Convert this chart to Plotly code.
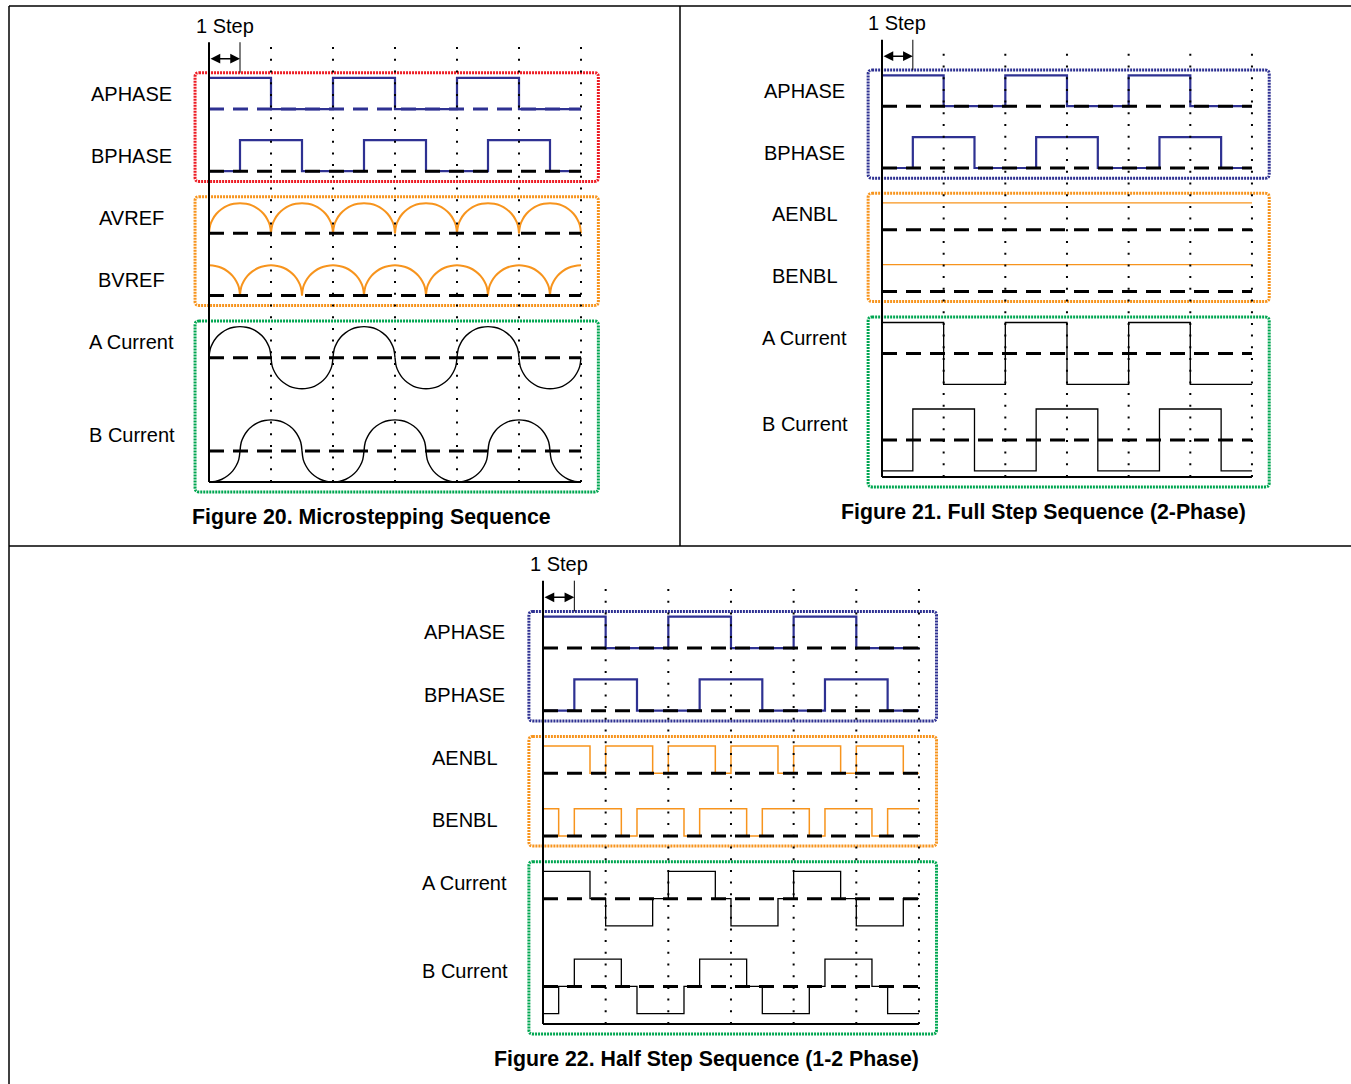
import plotly.graph_objects as go

W, H = 1351, 1084

# ---------------- data (levels per step / half-step) ----------------
APHASE = [1, 1, 0, 0, 1, 1, 0, 0, 1, 1, 0, 0]
BPHASE = [0, 1, 1, 0, 0, 1, 1, 0, 0, 1, 1, 0]

# Figure 20 (microstepping): one arc = 2 steps, polarity per arc, start step of first arc
AVREF_ARCS = [1, 1, 1, 1, 1, 1]
AVREF_START = 0
BVREF_ARCS = [1, 1, 1, 1, 1, 1, 1]
BVREF_START = -1
ACUR_ARCS = [1, -1, 1, -1, 1, -1]
ACUR_START = 0
BCUR_ARCS = [-1, 1, -1, 1, -1, 1, -1]
BCUR_START = -1
# arc profile (fraction of arc, height)
ARC_T = [0, 0.02, 0.06, 0.12, 0.2, 0.3, 0.4, 0.5, 0.6, 0.7, 0.8, 0.88, 0.94, 0.98, 1]
ARC_V = [0, 0.28, 0.47, 0.65, 0.8, 0.92, 0.98, 1.0, 0.98, 0.92, 0.8, 0.65, 0.47, 0.28, 0]

# Figure 21 (full step), per step
FS_AENBL = [1, 1, 1, 1, 1, 1, 1, 1, 1, 1, 1, 1]
FS_BENBL = [1, 1, 1, 1, 1, 1, 1, 1, 1, 1, 1, 1]
FS_ACUR = [1, 1, -1, -1, 1, 1, -1, -1, 1, 1, -1, -1]
FS_BCUR = [-1, 1, 1, -1, -1, 1, 1, -1, -1, 1, 1, -1]

# Figure 22 (half step), per half step
HS_AENBL = [1, 1, 1, 0, 1, 1, 1, 0, 1, 1, 1, 0, 1, 1, 1, 0, 1, 1, 1, 0, 1, 1, 1, 0]
HS_BENBL = [1, 0, 1, 1, 1, 0, 1, 1, 1, 0, 1, 1, 1, 0, 1, 1, 1, 0, 1, 1, 1, 0, 1, 1]
HS_ACUR = [1, 1, 1, 0, -1, -1, -1, 0, 1, 1, 1, 0, -1, -1, -1, 0, 1, 1, 1, 0, -1, -1, -1, 0]
HS_BCUR = [-1, 0, 1, 1, 1, 0, -1, -1, -1, 0, 1, 1, 1, 0, -1, -1, -1, 0, 1, 1, 1, 0, -1, -1]

LABELS_20 = ["APHASE", "BPHASE", "AVREF", "BVREF", "A Current", "B Current"]
LABELS_21 = ["APHASE", "BPHASE", "AENBL", "BENBL", "A Current", "B Current"]
LABELS_22 = ["APHASE", "BPHASE", "AENBL", "BENBL", "A Current", "B Current"]
TITLES = ["Figure 20. Microstepping Sequence",
          "Figure 21. Full Step Sequence (2-Phase)",
          "Figure 22. Half Step Sequence (1-2 Phase)"]
STEP_TEXT = "1 Step"
N_STEPS = 12

# ---------------- styling / layout ----------------
NAVY = "#2e3192"
ORANGE = "#f7941d"
RED = "#ed1c24"
GREEN = "#00a651"
FONT = "Liberation Sans, Arial, sans-serif"

# panel geometry: axis origin (px), step width (px), unit height (px)
PANELS = [
    dict(x0=209, step=31.0, y0=482, unit=31.08, bases=[12, 10, 8, 6, 4, 1.0],
         box1=RED, labels=LABELS_20, title=TITLES[0]),
    dict(x0=882, step=30.83, y0=477, unit=30.9, bases=[12, 10, 8, 6, 4, 1.2],
         box1=NAVY, labels=LABELS_21, title=TITLES[1]),
    dict(x0=543, step=31.33, y0=1024, unit=31.33, bases=[12, 10, 8, 6, 4, 1.2],
         box1=NAVY, labels=LABELS_22, title=TITLES[2]),
]

fig = go.Figure()


def step_xy(levels, dt, base, amp):
    xs = [i * dt for i in range(len(levels) + 1)]
    ys = [base + amp * v for v in levels] + [base + amp * levels[-1]]
    return xs, ys


def arc_xy(pols, start, base, amp):
    xs, ys = [], []
    for k, p in enumerate(pols):
        a0 = start + 2 * k
        for t, v in zip(ARC_T, ARC_V):
            x = a0 + 2 * t
            if -1e-9 <= x <= N_STEPS + 1e-9:
                xs.append(x)
                ys.append(base + amp * p * v)
        xs.append(None)
        ys.append(None)
    return xs, ys


def add_line(n, xs, ys, color, width, shape="hv"):
    ax = "" if n == 1 else str(n)
    fig.add_trace(go.Scatter(x=xs, y=ys, mode="lines", xaxis="x" + ax, yaxis="y" + ax,
                             line=dict(color=color, width=width, shape=shape),
                             hoverinfo="skip", showlegend=False, connectgaps=False))


# Panel 1
b = PANELS[0]["bases"]
add_line(1, *step_xy(APHASE, 1, b[0], 1.0), NAVY, 2.2)
add_line(1, *step_xy(BPHASE, 1, b[1], 1.0), NAVY, 2.2)
add_line(1, *arc_xy(AVREF_ARCS, AVREF_START, b[2], 0.97), ORANGE, 2, "spline")
add_line(1, *arc_xy(BVREF_ARCS, BVREF_START, b[3], 0.97), ORANGE, 2, "spline")
add_line(1, *arc_xy(ACUR_ARCS, ACUR_START, b[4], 1.0), "black", 1.4, "spline")
add_line(1, *arc_xy(BCUR_ARCS, BCUR_START, b[5], 1.0), "black", 1.4, "spline")

# Panel 2
b = PANELS[1]["bases"]
add_line(2, *step_xy(APHASE, 1, b[0], 1.0), NAVY, 2.2)
add_line(2, *step_xy(BPHASE, 1, b[1], 1.0), NAVY, 2.2)
add_line(2, *step_xy(FS_AENBL, 1, b[2], 0.87), ORANGE, 1.2)
add_line(2, *step_xy(FS_BENBL, 1, b[3], 0.87), ORANGE, 1.2)
add_line(2, *step_xy(FS_ACUR, 1, b[4], 1.0), "black", 1.3)
add_line(2, *step_xy(FS_BCUR, 1, b[5], 1.0), "black", 1.3)

# Panel 3
b = PANELS[2]["bases"]
add_line(3, *step_xy(APHASE, 1, b[0], 1.0), NAVY, 2.2)
add_line(3, *step_xy(BPHASE, 1, b[1], 1.0), NAVY, 2.2)
add_line(3, *step_xy(HS_AENBL, 0.5, b[2], 0.87), ORANGE, 1.5)
add_line(3, *step_xy(HS_BENBL, 0.5, b[3], 0.87), ORANGE, 1.5)
add_line(3, *step_xy(HS_ACUR, 0.5, b[4], 0.87), "black", 1.3)
add_line(3, *step_xy(HS_BCUR, 0.5, b[5], 0.87), "black", 1.3)

shapes = []
annotations = []
layout_axes = {}


def rounded_rect(x0, y0, x1, y1, rx, ry):
    return (f"M {x0+rx},{y1} L {x1-rx},{y1} Q {x1},{y1} {x1},{y1-ry} "
            f"L {x1},{y0+ry} Q {x1},{y0} {x1-rx},{y0} L {x0+rx},{y0} "
            f"Q {x0},{y0} {x0},{y0+ry} L {x0},{y1-ry} Q {x0},{y1} {x0+rx},{y1} Z")


for i, P in enumerate(PANELS):
    n = i + 1
    ax = "" if n == 1 else str(n)
    xr, yr = "x" + ax, "y" + ax
    layout_axes["xaxis" + ax] = dict(domain=[0, 1], anchor=yr, visible=False, fixedrange=True,
                                     range=[(0 - P["x0"]) / P["step"], (W - P["x0"]) / P["step"]])
    layout_axes["yaxis" + ax] = dict(domain=[0, 1], anchor=xr, visible=False, fixedrange=True,
                                     range=[(P["y0"] - H) / P["unit"], P["y0"] / P["unit"]])
    rx = 4 / P["step"]
    ry = 4 / P["unit"]
    # boxes
    for (ytop, ybot, col) in [(13.17, 9.67, P["box1"]), (9.18, 5.68, ORANGE), (5.18, -0.32, GREEN)]:
        shapes.append(dict(type="path", xref=xr, yref=yr,
                           path=rounded_rect(-0.45, ybot, 12.56, ytop, rx, ry),
                           line=dict(color=col, width=3, dash="2px,1px"), layer="below"))
    # dotted step grid
    for k in range(2, N_STEPS + 1, 2):
        shapes.append(dict(type="line", xref=xr, yref=yr, x0=k, x1=k, y0=0, y1=14.0,
                           line=dict(color="black", width=2, dash="2px,9.7px")))
    # dashed baselines
    for r, base in enumerate(P["bases"]):
        col = NAVY if (n == 1 and r == 0) else "black"
        shapes.append(dict(type="line", xref=xr, yref=yr, x0=0, x1=N_STEPS, y0=base, y1=base,
                           line=dict(color=col, width=3, dash="15px,9px")))
    # axes
    shapes.append(dict(type="line", xref=xr, yref=yr, x0=0, x1=0, y0=0, y1=14.15,
                       line=dict(color="black", width=2)))
    shapes.append(dict(type="line", xref=xr, yref=yr, x0=0, x1=N_STEPS, y0=0, y1=0,
                       line=dict(color="black", width=2)))
    # step marker
    shapes.append(dict(type="line", xref=xr, yref=yr, x0=1, x1=1, y0=13.17, y1=14.15,
                       line=dict(color="black", width=1)))
    annotations.append(dict(xref=xr, yref=yr, x=1, y=13.62, axref=xr, ayref=yr, ax=0, ay=13.62,
                            text="", showarrow=True, arrowhead=2, startarrowhead=2,
                            arrowside="end+start", arrowsize=1.3, startarrowsize=1.3,
                            arrowwidth=1.5, arrowcolor="black", standoff=0, startstandoff=0))
    annotations.append(dict(xref=xr, yref=yr, x=0.5, y=14.68, text=STEP_TEXT, showarrow=False,
                            font=dict(family=FONT, size=20, color="black"),
                            xanchor="center", yanchor="middle"))
    for lab, base in zip(P["labels"], P["bases"]):
        annotations.append(dict(xref=xr, yref=yr, x=-2.5, y=base + 0.5, text=lab, showarrow=False,
                                font=dict(family=FONT, size=20, color="black"),
                                xanchor="center", yanchor="middle"))
    annotations.append(dict(xref=xr, yref=yr, x=5.23, y=-1.12, text="<b>" + P["title"] + "</b>",
                            showarrow=False, font=dict(family=FONT, size=21.3, color="black"),
                            xanchor="center", yanchor="middle"))

# table borders (paper coordinates)
def px(x):
    return x / W


def py(y):
    return 1 - y / H


for (x0, y0, x1, y1) in [(9, 6, W, 6), (9, 6, 9, H), (680, 6, 680, 546), (9, 546, W, 546)]:
    shapes.append(dict(type="line", xref="paper", yref="paper", x0=px(x0), y0=py(y0),
                       x1=px(x1), y1=py(y1), line=dict(color="black", width=1.5)))

fig.update_layout(width=W, height=H, margin=dict(l=0, r=0, t=0, b=0),
                  paper_bgcolor="white", plot_bgcolor="rgba(0,0,0,0)",
                  shapes=shapes, annotations=annotations, showlegend=False, **layout_axes)

fig.write_html("out.html", config={"displayModeBar": False},
               post_script="document.body.style.margin='0';document.body.style.overflow='hidden';")
